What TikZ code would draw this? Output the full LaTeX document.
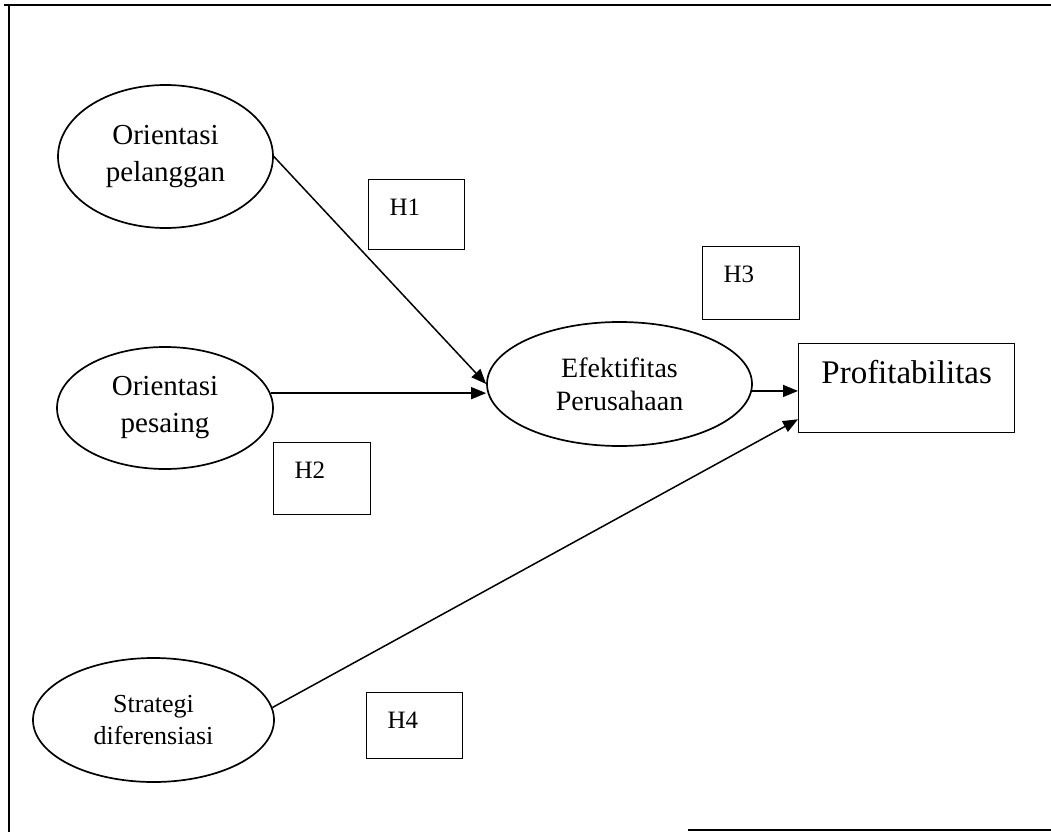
\documentclass[tikz,border=0pt]{standalone}
\usepackage{fontspec}
\setmainfont{Liberation Serif}
\usetikzlibrary{shapes.geometric,arrows.meta}
\begin{document}
\begin{tikzpicture}[x=1pt,y=-1pt,
  construct/.style={draw, ellipse, line width=1.7pt, inner sep=0pt, align=center},
  hypbox/.style={draw, line width=1.3pt, anchor=north west, inner xsep=21pt,
    inner ysep=0pt, align=left, text height=36pt, font=\fontsize{25}{30}\selectfont},
  outcome/.style={draw, line width=1.3pt, anchor=north west, inner sep=0pt,
    font=\fontsize{33}{40}\selectfont},
  link/.style={line width=1.5pt, -{Triangle[length=15pt,width=12pt]}}
]
\useasboundingbox (0,0) rectangle (1051,832);

% outer frame (open on the right)
\draw[line width=2pt] (4,5) -- (1051,5);
\draw[line width=1.5pt] (9,5) -- (9,832);
\draw[line width=2pt] (688,830) -- (1051,830);

% constructs
\node[construct, minimum width=215pt, minimum height=143pt,
  font=\fontsize{29}{37}\selectfont] (op) at (165.5,156.5) {Orientasi\\pelanggan};
\node[construct, minimum width=216pt, minimum height=122pt,
  font=\fontsize{29}{37}\selectfont] (os) at (165,408) {Orientasi\\pesaing};
\node[construct, minimum width=241pt, minimum height=124pt,
  font=\fontsize{26}{32}\selectfont] (sd) at (153.5,720) {Strategi\\diferensiasi};
\node[construct, minimum width=265pt, minimum height=124pt,
  font=\fontsize{28}{33}\selectfont] (ep) at (619.5,384) {Efektifitas\\Perusahaan};

% outcome
\node[outcome, minimum width=216pt, text height=40pt, text depth=49pt]
  (pr) at (798,343) {Profitabilitas};

% hypothesis labels
\node[hypbox, text width=54pt, text depth=34pt] (h1) at (368,179) {H1};
\node[hypbox, text width=55pt, text depth=36pt] (h2) at (273,442) {H2};
\node[hypbox, text width=55pt, text depth=37pt] (h3) at (702,246) {H3};
\node[hypbox, text width=54pt, text depth=30pt] (h4) at (366,692) {H4};

% paths
\draw[link] (op.east) -- (ep.west);
\draw[link] (os.8) -- (os.8 -| ep.west);
\draw[link] (ep.-3) -- (ep.-3 -| pr.west);
\draw[link] (sd.6) -- (pr.196);
\end{tikzpicture}
\end{document}
